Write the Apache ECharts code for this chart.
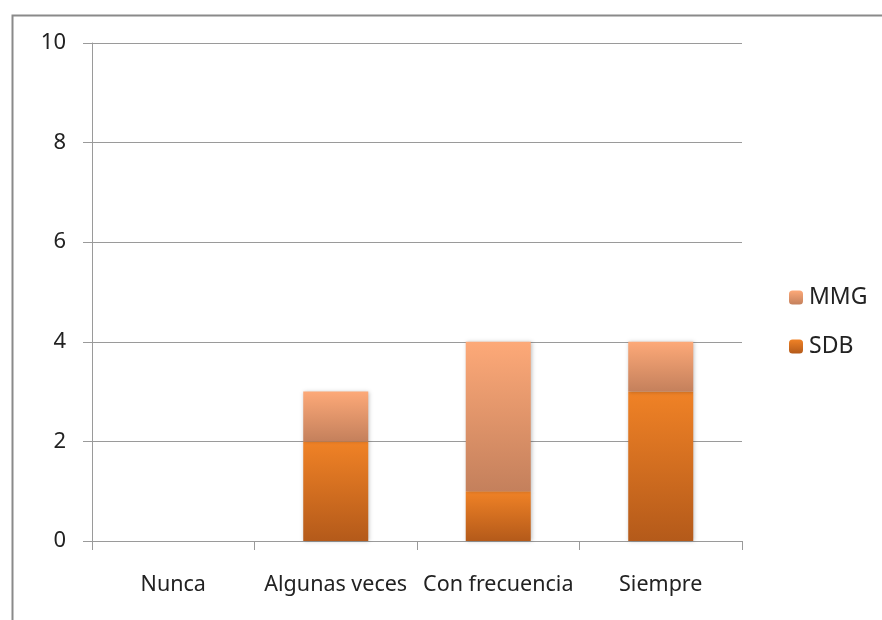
<!DOCTYPE html>
<html>
<head>
<meta charset="utf-8">
<script src="https://cdn.jsdelivr.net/npm/echarts@6/dist/echarts.min.js"></script>
<style>
  html, body { margin: 0; padding: 0; background: #fff; }
  #chart { width: 882px; height: 620px; }
</style>
</head>
<body>
<div id="chart"></div>
<script>
// categorias y valores
var categories = ['Nunca', 'Algunas veces', 'Con frecuencia', 'Siempre'];
var sdbValues = [0, 2, 1, 3];
var mmgValues = [0, 1, 3, 1];
var yTicks = [0, 2, 4, 6, 8, 10];

var font = 'Noto Sans';

function grad(top, bottom) {
  return new echarts.graphic.LinearGradient(0, 0, 0, 1, [
    { offset: 0, color: top },
    { offset: 1, color: bottom }
  ]);
}

var chart = echarts.init(document.getElementById('chart'));
var options = {
  animation: false,
  textStyle: { fontFamily: font },
  graphic: [{
    type: 'rect',
    left: 10, top: 13,
    shape: { width: 900, height: 700 },
    style: { fill: 'none', stroke: '#8a8a8a', lineWidth: 2 },
    silent: true
  }],
  grid: { left: 92, right: 140, top: 43, bottom: 79 },
  legend: {
    orient: 'vertical',
    left: 784,
    top: 281,
    itemWidth: 14,
    itemHeight: 14,
    itemGap: 26,
    data: ['MMG', 'SDB'],
    textStyle: { fontSize: 23, color: '#222', fontFamily: font, padding: [0, 0, 0, 1] }
  },
  xAxis: {
    type: 'category',
    data: categories,
    axisLine: { lineStyle: { color: '#9a9a9a', width: 1 } },
    axisTick: { show: true, length: 9, lineStyle: { color: '#9a9a9a' } },
    axisLabel: { color: '#222', fontSize: 21.5, margin: 33, interval: 0, fontFamily: font }
  },
  yAxis: {
    type: 'value',
    min: yTicks[0],
    max: yTicks[yTicks.length - 1],
    interval: 2,
    axisLine: { show: true, lineStyle: { color: '#9a9a9a' } },
    axisTick: { show: true, length: 9, lineStyle: { color: '#9a9a9a' } },
    splitLine: { lineStyle: { color: '#9a9a9a' } },
    axisLabel: { color: '#222', fontSize: 22, margin: 26, fontFamily: font }
  },
  series: [
    {
      name: 'SDB',
      type: 'bar',
      stack: 'total',
      data: sdbValues,
      barWidth: '40%',
      itemStyle: {
        color: grad('#F08226', '#B45A1A'),
        shadowBlur: 4,
        shadowColor: 'rgba(0,0,0,0.25)',
        shadowOffsetX: 1
      }
    },
    {
      name: 'MMG',
      type: 'bar',
      stack: 'total',
      data: mmgValues,
      barWidth: '40%',
      itemStyle: {
        color: grad('#FDA978', '#C4805C'),
        shadowBlur: 4,
        shadowColor: 'rgba(0,0,0,0.25)',
        shadowOffsetX: 1
      }
    }
  ]
};
chart.setOption(options);
</script>
</body>
</html>
